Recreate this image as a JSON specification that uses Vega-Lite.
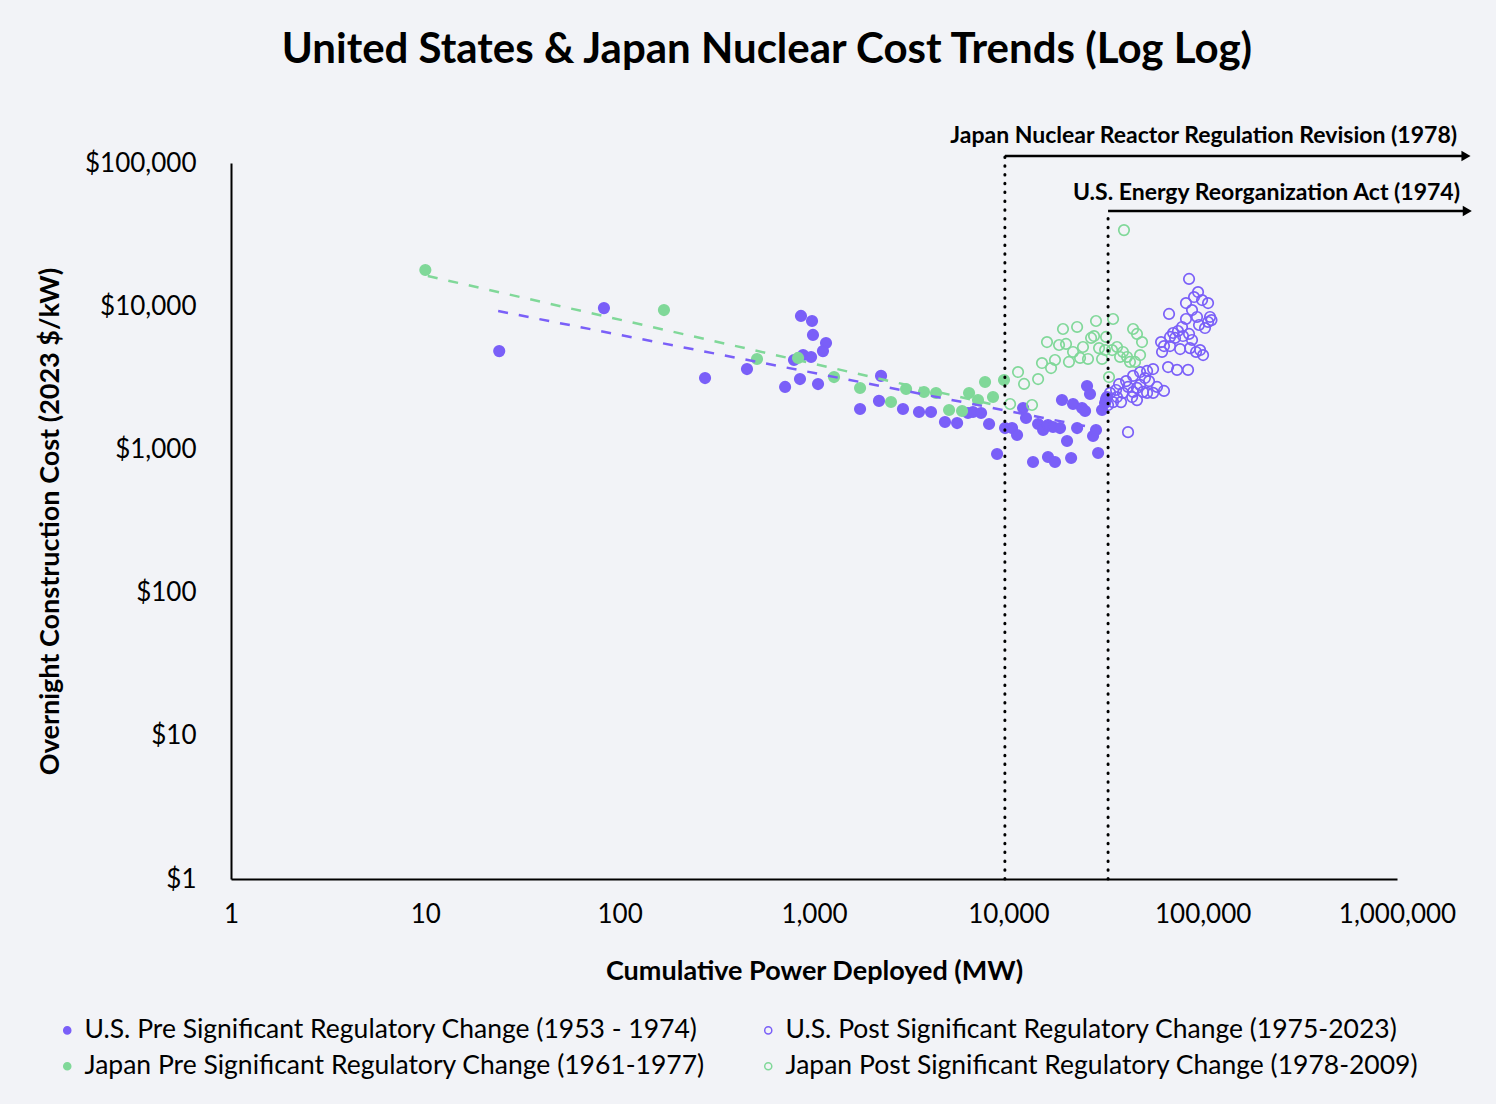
{
"$schema": "https://vega.github.io/schema/vega-lite/v6.json",
"width": 1166, "height": 716,
"autosize": {"type": "none"},
"padding": {"left": 231, "top": 163, "right": 99, "bottom": 225},
"background": "#F2F3F7",
"title": {"text": "United States & Japan Nuclear Cost Trends (Log Log)", "font": "Lato", "fontSize": 42, "fontWeight": "bold", "color": "#000000", "anchor": "middle", "dx": -47, "offset": 53},
"config": {"view": {"stroke": null}, "font": "Lato",
  "axis": {"labelFont": "Lato", "titleFont": "Lato", "labelColor": "#000000", "titleColor": "#000000", "grid": false, "ticks": false, "domainColor": "#000000", "domainWidth": 2, "labelFlush": false, "labelOverlap": false}},
"datasets": {
"pts": [
{"series":"U.S. Pre Significant Regulatory Change (1953 - 1974)","mw":24,"cost":4860},
{"series":"U.S. Pre Significant Regulatory Change (1953 - 1974)","mw":83,"cost":9700},
{"series":"U.S. Pre Significant Regulatory Change (1953 - 1974)","mw":275,"cost":3150},
{"series":"U.S. Pre Significant Regulatory Change (1953 - 1974)","mw":452,"cost":3640},
{"series":"U.S. Pre Significant Regulatory Change (1953 - 1974)","mw":710,"cost":2730},
{"series":"U.S. Pre Significant Regulatory Change (1953 - 1974)","mw":857,"cost":8550},
{"series":"U.S. Pre Significant Regulatory Change (1953 - 1974)","mw":977,"cost":7880},
{"series":"U.S. Pre Significant Regulatory Change (1953 - 1974)","mw":988,"cost":6300},
{"series":"U.S. Pre Significant Regulatory Change (1953 - 1974)","mw":1153,"cost":5530},
{"series":"U.S. Pre Significant Regulatory Change (1953 - 1974)","mw":1112,"cost":4860},
{"series":"U.S. Pre Significant Regulatory Change (1953 - 1974)","mw":879,"cost":4560},
{"series":"U.S. Pre Significant Regulatory Change (1953 - 1974)","mw":966,"cost":4420},
{"series":"U.S. Pre Significant Regulatory Change (1953 - 1974)","mw":789,"cost":4210},
{"series":"U.S. Pre Significant Regulatory Change (1953 - 1974)","mw":847,"cost":3100},
{"series":"U.S. Pre Significant Regulatory Change (1953 - 1974)","mw":1049,"cost":2860},
{"series":"U.S. Pre Significant Regulatory Change (1953 - 1974)","mw":1726,"cost":1915},
{"series":"U.S. Pre Significant Regulatory Change (1953 - 1974)","mw":2213,"cost":3260},
{"series":"U.S. Pre Significant Regulatory Change (1953 - 1974)","mw":2160,"cost":2180},
{"series":"U.S. Pre Significant Regulatory Change (1953 - 1974)","mw":2870,"cost":1915},
{"series":"U.S. Pre Significant Regulatory Change (1953 - 1974)","mw":3470,"cost":1824},
{"series":"U.S. Pre Significant Regulatory Change (1953 - 1974)","mw":4000,"cost":1824},
{"series":"U.S. Pre Significant Regulatory Change (1953 - 1974)","mw":4720,"cost":1553},
{"series":"U.S. Pre Significant Regulatory Change (1953 - 1974)","mw":5450,"cost":1528},
{"series":"U.S. Pre Significant Regulatory Change (1953 - 1974)","mw":6200,"cost":1795},
{"series":"U.S. Pre Significant Regulatory Change (1953 - 1974)","mw":6580,"cost":1824},
{"series":"U.S. Pre Significant Regulatory Change (1953 - 1974)","mw":7240,"cost":1795},
{"series":"U.S. Pre Significant Regulatory Change (1953 - 1974)","mw":7960,"cost":1504},
{"series":"U.S. Pre Significant Regulatory Change (1953 - 1974)","mw":8750,"cost":929},
{"series":"U.S. Pre Significant Regulatory Change (1953 - 1974)","mw":9620,"cost":1410},
{"series":"U.S. Pre Significant Regulatory Change (1953 - 1974)","mw":10450,"cost":1410},
{"series":"U.S. Pre Significant Regulatory Change (1953 - 1974)","mw":11090,"cost":1261},
{"series":"U.S. Pre Significant Regulatory Change (1953 - 1974)","mw":11910,"cost":1946},
{"series":"U.S. Pre Significant Regulatory Change (1953 - 1974)","mw":12330,"cost":1656},
{"series":"U.S. Pre Significant Regulatory Change (1953 - 1974)","mw":13400,"cost":817},
{"series":"U.S. Pre Significant Regulatory Change (1953 - 1974)","mw":14230,"cost":1504},
{"series":"U.S. Pre Significant Regulatory Change (1953 - 1974)","mw":15100,"cost":1366},
{"series":"U.S. Pre Significant Regulatory Change (1953 - 1974)","mw":16000,"cost":1481},
{"series":"U.S. Pre Significant Regulatory Change (1953 - 1974)","mw":16980,"cost":1433},
{"series":"U.S. Pre Significant Regulatory Change (1953 - 1974)","mw":18450,"cost":1410},
{"series":"U.S. Pre Significant Regulatory Change (1953 - 1974)","mw":18880,"cost":2213},
{"series":"U.S. Pre Significant Regulatory Change (1953 - 1974)","mw":20050,"cost":1145},
{"series":"U.S. Pre Significant Regulatory Change (1953 - 1974)","mw":16000,"cost":885},
{"series":"U.S. Pre Significant Regulatory Change (1953 - 1974)","mw":17380,"cost":817},
{"series":"U.S. Pre Significant Regulatory Change (1953 - 1974)","mw":21040,"cost":871},
{"series":"U.S. Pre Significant Regulatory Change (1953 - 1974)","mw":21530,"cost":2075},
{"series":"U.S. Pre Significant Regulatory Change (1953 - 1974)","mw":22590,"cost":1410},
{"series":"U.S. Pre Significant Regulatory Change (1953 - 1974)","mw":23940,"cost":1946},
{"series":"U.S. Pre Significant Regulatory Change (1953 - 1974)","mw":24830,"cost":1854},
{"series":"U.S. Pre Significant Regulatory Change (1953 - 1974)","mw":25410,"cost":2772},
{"series":"U.S. Pre Significant Regulatory Change (1953 - 1974)","mw":26320,"cost":2437},
{"series":"U.S. Pre Significant Regulatory Change (1953 - 1974)","mw":27290,"cost":1241},
{"series":"U.S. Pre Significant Regulatory Change (1953 - 1974)","mw":28260,"cost":1366},
{"series":"U.S. Pre Significant Regulatory Change (1953 - 1974)","mw":28970,"cost":944},
{"series":"U.S. Pre Significant Regulatory Change (1953 - 1974)","mw":30360,"cost":1884},
{"series":"U.S. Pre Significant Regulatory Change (1953 - 1974)","mw":31470,"cost":2109},
{"series":"U.S. Pre Significant Regulatory Change (1953 - 1974)","mw":32200,"cost":2320},
{"series":"U.S. Post Significant Regulatory Change (1975-2023)","mw":85100,"cost":15500},
{"series":"U.S. Post Significant Regulatory Change (1975-2023)","mw":67140,"cost":8830},
{"series":"U.S. Post Significant Regulatory Change (1975-2023)","mw":94660,"cost":12560},
{"series":"U.S. Post Significant Regulatory Change (1975-2023)","mw":90300,"cost":11590},
{"series":"U.S. Post Significant Regulatory Change (1975-2023)","mw":82060,"cost":10520},
{"series":"U.S. Post Significant Regulatory Change (1975-2023)","mw":106600,"cost":10520},
{"series":"U.S. Post Significant Regulatory Change (1975-2023)","mw":88150,"cost":9400},
{"series":"U.S. Post Significant Regulatory Change (1975-2023)","mw":93530,"cost":8410},
{"series":"U.S. Post Significant Regulatory Change (1975-2023)","mw":109100,"cost":8410},
{"series":"U.S. Post Significant Regulatory Change (1975-2023)","mw":106600,"cost":7760},
{"series":"U.S. Post Significant Regulatory Change (1975-2023)","mw":102800,"cost":7040},
{"series":"U.S. Post Significant Regulatory Change (1975-2023)","mw":95760,"cost":7390},
{"series":"U.S. Post Significant Regulatory Change (1975-2023)","mw":82060,"cost":8140},
{"series":"U.S. Post Significant Regulatory Change (1975-2023)","mw":78300,"cost":7160},
{"series":"U.S. Post Significant Regulatory Change (1975-2023)","mw":74650,"cost":6710},
{"series":"U.S. Post Significant Regulatory Change (1975-2023)","mw":70440,"cost":6500},
{"series":"U.S. Post Significant Regulatory Change (1975-2023)","mw":67920,"cost":6100},
{"series":"U.S. Post Significant Regulatory Change (1975-2023)","mw":72080,"cost":6000},
{"series":"U.S. Post Significant Regulatory Change (1975-2023)","mw":79200,"cost":6190},
{"series":"U.S. Post Significant Regulatory Change (1975-2023)","mw":61090,"cost":5620},
{"series":"U.S. Post Significant Regulatory Change (1975-2023)","mw":63240,"cost":5270},
{"series":"U.S. Post Significant Regulatory Change (1975-2023)","mw":61800,"cost":4790},
{"series":"U.S. Post Significant Regulatory Change (1975-2023)","mw":67920,"cost":5270},
{"series":"U.S. Post Significant Regulatory Change (1975-2023)","mw":76560,"cost":5020},
{"series":"U.S. Post Significant Regulatory Change (1975-2023)","mw":86100,"cost":5100},
{"series":"U.S. Post Significant Regulatory Change (1975-2023)","mw":92470,"cost":4790},
{"series":"U.S. Post Significant Regulatory Change (1975-2023)","mw":97000,"cost":4940},
{"series":"U.S. Post Significant Regulatory Change (1975-2023)","mw":100500,"cost":4560},
{"series":"U.S. Post Significant Regulatory Change (1975-2023)","mw":66370,"cost":3760},
{"series":"U.S. Post Significant Regulatory Change (1975-2023)","mw":73810,"cost":3590},
{"series":"U.S. Post Significant Regulatory Change (1975-2023)","mw":84100,"cost":3590},
{"series":"U.S. Post Significant Regulatory Change (1975-2023)","mw":55570,"cost":3640},
{"series":"U.S. Post Significant Regulatory Change (1975-2023)","mw":51760,"cost":3530},
{"series":"U.S. Post Significant Regulatory Change (1975-2023)","mw":47640,"cost":3470},
{"series":"U.S. Post Significant Regulatory Change (1975-2023)","mw":43850,"cost":3260},
{"series":"U.S. Post Significant Regulatory Change (1975-2023)","mw":40360,"cost":3000},
{"series":"U.S. Post Significant Regulatory Change (1975-2023)","mw":37150,"cost":2860},
{"series":"U.S. Post Significant Regulatory Change (1975-2023)","mw":41300,"cost":2730},
{"series":"U.S. Post Significant Regulatory Change (1975-2023)","mw":47640,"cost":2820},
{"series":"U.S. Post Significant Regulatory Change (1975-2023)","mw":52970,"cost":3000},
{"series":"U.S. Post Significant Regulatory Change (1975-2023)","mw":58210,"cost":2730},
{"series":"U.S. Post Significant Regulatory Change (1975-2023)","mw":63240,"cost":2560},
{"series":"U.S. Post Significant Regulatory Change (1975-2023)","mw":55570,"cost":2480},
{"series":"U.S. Post Significant Regulatory Change (1975-2023)","mw":49320,"cost":2520},
{"series":"U.S. Post Significant Regulatory Change (1975-2023)","mw":43850,"cost":2520},
{"series":"U.S. Post Significant Regulatory Change (1975-2023)","mw":43350,"cost":2320},
{"series":"U.S. Post Significant Regulatory Change (1975-2023)","mw":45920,"cost":2210},
{"series":"U.S. Post Significant Regulatory Change (1975-2023)","mw":38900,"cost":2480},
{"series":"U.S. Post Significant Regulatory Change (1975-2023)","mw":36250,"cost":2320},
{"series":"U.S. Post Significant Regulatory Change (1975-2023)","mw":33380,"cost":2480},
{"series":"U.S. Post Significant Regulatory Change (1975-2023)","mw":34590,"cost":2140},
{"series":"U.S. Post Significant Regulatory Change (1975-2023)","mw":38020,"cost":2140},
{"series":"U.S. Post Significant Regulatory Change (1975-2023)","mw":41300,"cost":1320},
{"series":"U.S. Post Significant Regulatory Change (1975-2023)","mw":51760,"cost":2480},
{"series":"U.S. Post Significant Regulatory Change (1975-2023)","mw":31840,"cost":2250},
{"series":"U.S. Post Significant Regulatory Change (1975-2023)","mw":32600,"cost":2040},
{"series":"U.S. Post Significant Regulatory Change (1975-2023)","mw":45920,"cost":2690},
{"series":"U.S. Post Significant Regulatory Change (1975-2023)","mw":50470,"cost":3150},
{"series":"U.S. Post Significant Regulatory Change (1975-2023)","mw":35840,"cost":2600},
{"series":"U.S. Post Significant Regulatory Change (1975-2023)","mw":99300,"cost":11040},
{"series":"U.S. Post Significant Regulatory Change (1975-2023)","mw":111000,"cost":8000},
{"series":"U.S. Post Significant Regulatory Change (1975-2023)","mw":85100,"cost":6400},
{"series":"U.S. Post Significant Regulatory Change (1975-2023)","mw":88150,"cost":5810},
{"series":"Japan Pre Significant Regulatory Change (1961-1977)","mw":10,"cost":17900},
{"series":"Japan Pre Significant Regulatory Change (1961-1977)","mw":169,"cost":9400},
{"series":"Japan Pre Significant Regulatory Change (1961-1977)","mw":509,"cost":4280},
{"series":"Japan Pre Significant Regulatory Change (1961-1977)","mw":828,"cost":4350},
{"series":"Japan Pre Significant Regulatory Change (1961-1977)","mw":1268,"cost":3200},
{"series":"Japan Pre Significant Regulatory Change (1961-1977)","mw":1726,"cost":2685},
{"series":"Japan Pre Significant Regulatory Change (1961-1977)","mw":2490,"cost":2143},
{"series":"Japan Pre Significant Regulatory Change (1961-1977)","mw":2977,"cost":2640},
{"series":"Japan Pre Significant Regulatory Change (1961-1977)","mw":3680,"cost":2517},
{"series":"Japan Pre Significant Regulatory Change (1961-1977)","mw":4246,"cost":2477},
{"series":"Japan Pre Significant Regulatory Change (1961-1977)","mw":4955,"cost":1884},
{"series":"Japan Pre Significant Regulatory Change (1961-1977)","mw":5780,"cost":1854},
{"series":"Japan Pre Significant Regulatory Change (1961-1977)","mw":6280,"cost":2477},
{"series":"Japan Pre Significant Regulatory Change (1961-1977)","mw":6980,"cost":2213},
{"series":"Japan Pre Significant Regulatory Change (1961-1977)","mw":7590,"cost":2956},
{"series":"Japan Pre Significant Regulatory Change (1961-1977)","mw":8340,"cost":2323},
{"series":"Japan Pre Significant Regulatory Change (1961-1977)","mw":9500,"cost":3050},
{"series":"Japan Post Significant Regulatory Change (1978-2009)","mw":10210,"cost":2075},
{"series":"Japan Post Significant Regulatory Change (1978-2009)","mw":11220,"cost":3470},
{"series":"Japan Post Significant Regulatory Change (1978-2009)","mw":12050,"cost":2864},
{"series":"Japan Post Significant Regulatory Change (1978-2009)","mw":13240,"cost":2042},
{"series":"Japan Post Significant Regulatory Change (1978-2009)","mw":14230,"cost":3100},
{"series":"Japan Post Significant Regulatory Change (1978-2009)","mw":14900,"cost":4010},
{"series":"Japan Post Significant Regulatory Change (1978-2009)","mw":15810,"cost":5620},
{"series":"Japan Post Significant Regulatory Change (1978-2009)","mw":16590,"cost":3700},
{"series":"Japan Post Significant Regulatory Change (1978-2009)","mw":17380,"cost":4210},
{"series":"Japan Post Significant Regulatory Change (1978-2009)","mw":18240,"cost":5360},
{"series":"Japan Post Significant Regulatory Change (1978-2009)","mw":19110,"cost":6930},
{"series":"Japan Post Significant Regulatory Change (1978-2009)","mw":19810,"cost":5450},
{"series":"Japan Post Significant Regulatory Change (1978-2009)","mw":20510,"cost":4080},
{"series":"Japan Post Significant Regulatory Change (1978-2009)","mw":21530,"cost":4790},
{"series":"Japan Post Significant Regulatory Change (1978-2009)","mw":22590,"cost":7160},
{"series":"Japan Post Significant Regulatory Change (1978-2009)","mw":23390,"cost":4350},
{"series":"Japan Post Significant Regulatory Change (1978-2009)","mw":24220,"cost":5190},
{"series":"Japan Post Significant Regulatory Change (1978-2009)","mw":25700,"cost":4280},
{"series":"Japan Post Significant Regulatory Change (1978-2009)","mw":26660,"cost":6000},
{"series":"Japan Post Significant Regulatory Change (1978-2009)","mw":27610,"cost":6190},
{"series":"Japan Post Significant Regulatory Change (1978-2009)","mw":28260,"cost":7880},
{"series":"Japan Post Significant Regulatory Change (1978-2009)","mw":29300,"cost":5100},
{"series":"Japan Post Significant Regulatory Change (1978-2009)","mw":30360,"cost":4280},
{"series":"Japan Post Significant Regulatory Change (1978-2009)","mw":31840,"cost":6100},
{"series":"Japan Post Significant Regulatory Change (1978-2009)","mw":32970,"cost":3200},
{"series":"Japan Post Significant Regulatory Change (1978-2009)","mw":34590,"cost":8140},
{"series":"Japan Post Significant Regulatory Change (1978-2009)","mw":34190,"cost":4940},
{"series":"Japan Post Significant Regulatory Change (1978-2009)","mw":36250,"cost":5190},
{"series":"Japan Post Significant Regulatory Change (1978-2009)","mw":37580,"cost":4420},
{"series":"Japan Post Significant Regulatory Change (1978-2009)","mw":38900,"cost":4790},
{"series":"Japan Post Significant Regulatory Change (1978-2009)","mw":40830,"cost":4420},
{"series":"Japan Post Significant Regulatory Change (1978-2009)","mw":42270,"cost":4080},
{"series":"Japan Post Significant Regulatory Change (1978-2009)","mw":44870,"cost":4080},
{"series":"Japan Post Significant Regulatory Change (1978-2009)","mw":43850,"cost":6930},
{"series":"Japan Post Significant Regulatory Change (1978-2009)","mw":45920,"cost":6400},
{"series":"Japan Post Significant Regulatory Change (1978-2009)","mw":48750,"cost":5620},
{"series":"Japan Post Significant Regulatory Change (1978-2009)","mw":47640,"cost":4560},
{"series":"Japan Post Significant Regulatory Change (1978-2009)","mw":39360,"cost":34000},
{"series":"Japan Post Significant Regulatory Change (1978-2009)","mw":31470,"cost":4940}
],
"usTrend": [{"mw": 23.7, "cost": 9250}, {"mw": 27900, "cost": 1410}],
"jpTrend": [{"mw": 10.3, "cost": 16250}, {"mw": 8540, "cost": 2042}],
"vlines": [{"mw": 9600, "cost": 1, "cost2": 112000}, {"mw": 32600, "cost": 1, "cost2": 46200}],
"arrows": [{"mw": 9600, "mw2": 2265000, "cost": 112000}, {"mw": 32600, "mw2": 2300000, "cost": 46200}],
"notes": [{"label": "Japan Nuclear Reactor Regulation Revision (1978)", "mw": 2037000, "cost": 138000}, {"label": "U.S. Energy Reorganization Act (1974)", "mw": 2110000, "cost": 55200}]
},
"layer": [
{
 "data": {"name": "pts"},
 "mark": {"type": "point", "shape": "circle", "size": 110, "strokeWidth": 1.7, "opacity": 1, "fillOpacity": 1},
 "encoding": {
  "x": {"field": "mw", "type": "quantitative",
        "scale": {"type": "log", "domain": [1, 1000000], "nice": false},
        "axis": {"values": [1, 10, 100, 1000, 10000, 100000, 1000000], "format": ",", "labelFontSize": 26, "labelPadding": 22, "title": "Cumulative Power Deployed (MW)", "titleFontSize": 27, "titleFontWeight": "bold", "titlePadding": 31}},
  "y": {"field": "cost", "type": "quantitative",
        "scale": {"type": "log", "domain": [1, 100000], "nice": false},
        "axis": {"values": [1, 10, 100, 1000, 10000, 100000], "format": "$,", "labelFontSize": 26, "labelPadding": 35, "title": "Overnight Construction Cost (2023 $/kW)", "titleFontSize": 27, "titleFontWeight": "bold", "titlePadding": 20}},
  "fill": {"field": "series", "type": "nominal",
        "scale": {"domain": ["U.S. Pre Significant Regulatory Change (1953 - 1974)", "Japan Pre Significant Regulatory Change (1961-1977)", "U.S. Post Significant Regulatory Change (1975-2023)", "Japan Post Significant Regulatory Change (1978-2009)"], "range": ["#7A5FF8", "#80D899", "transparent", "transparent"]},
        "legend": {"orient": "none", "legendX": -177, "legendY": 854, "columns": 2, "title": null, "labelFont": "Lato", "labelFontSize": 26.5, "labelColor": "#000000", "labelLimit": 0, "symbolSize": 50, "symbolStrokeWidth": 1.5, "symbolType": "circle", "columnPadding": 50, "rowPadding": 9, "labelOffset": 4}},
  "stroke": {"field": "series", "type": "nominal",
        "scale": {"domain": ["U.S. Pre Significant Regulatory Change (1953 - 1974)", "Japan Pre Significant Regulatory Change (1961-1977)", "U.S. Post Significant Regulatory Change (1975-2023)", "Japan Post Significant Regulatory Change (1978-2009)"], "range": ["#7A5FF8", "#80D899", "#7A5FF8", "#80D899"]},
        "legend": {"orient": "none", "legendX": -177, "legendY": 854, "columns": 2, "title": null, "labelFont": "Lato", "labelFontSize": 26.5, "labelColor": "#000000", "labelLimit": 0, "symbolSize": 50, "symbolStrokeWidth": 1.5, "symbolType": "circle", "columnPadding": 50, "rowPadding": 9, "labelOffset": 4}}
 }
},
{
 "data": {"name": "usTrend"},
 "mark": {"type": "line", "color": "#7A5FF8", "strokeWidth": 2.5, "strokeDash": [10, 11]},
 "encoding": {"x": {"field": "mw", "type": "quantitative"}, "y": {"field": "cost", "type": "quantitative"}}
},
{
 "data": {"name": "jpTrend"},
 "mark": {"type": "line", "color": "#80D899", "strokeWidth": 2.5, "strokeDash": [10, 11]},
 "encoding": {"x": {"field": "mw", "type": "quantitative"}, "y": {"field": "cost", "type": "quantitative"}}
},
{
 "data": {"name": "vlines"},
 "mark": {"type": "rule", "color": "#000000", "strokeWidth": 3, "strokeCap": "round", "strokeDash": [0.5, 8.3]},
 "encoding": {"x": {"field": "mw", "type": "quantitative"}, "y": {"field": "cost", "type": "quantitative"}, "y2": {"field": "cost2"}}
},
{
 "data": {"name": "arrows"},
 "mark": {"type": "rule", "color": "#000000", "strokeWidth": 2.5},
 "encoding": {"x": {"field": "mw", "type": "quantitative"}, "x2": {"field": "mw2"}, "y": {"field": "cost", "type": "quantitative"}}
},
{
 "data": {"name": "arrows"},
 "mark": {"type": "point", "shape": "triangle-right", "size": 110, "filled": true, "color": "#000000", "opacity": 1},
 "encoding": {"x": {"field": "mw2", "type": "quantitative"}, "y": {"field": "cost", "type": "quantitative"}}
},
{
 "data": {"name": "notes"},
 "mark": {"type": "text", "font": "Lato", "fontSize": 23, "fontWeight": "bold", "align": "right", "baseline": "alphabetic", "color": "#000000"},
 "encoding": {"x": {"field": "mw", "type": "quantitative"}, "y": {"field": "cost", "type": "quantitative"}, "text": {"field": "label"}}
}
]
}
